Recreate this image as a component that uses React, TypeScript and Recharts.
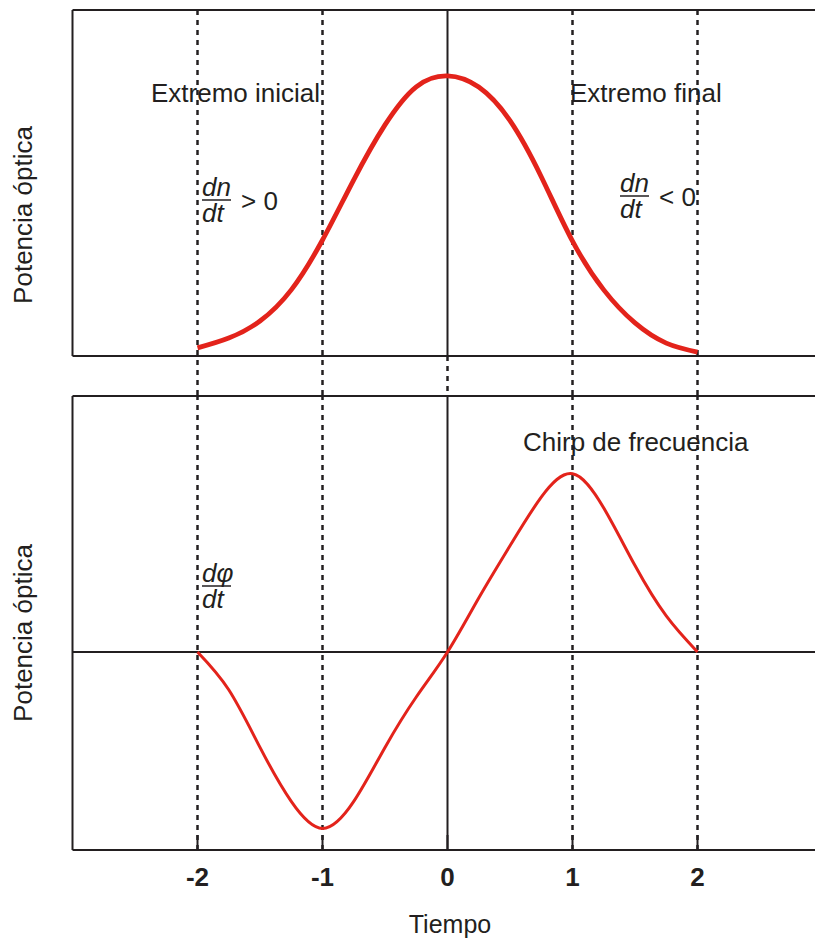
import React from "react";
import { LineChart, Line, XAxis, YAxis, ReferenceLine, Customized } from "recharts";

// time axis (normalised units) and the two traces
const time = [-2, -1.75, -1.5, -1.25, -1, -0.75, -0.5, -0.25, 0, 0.25, 0.5, 0.75, 1, 1.25, 1.5, 1.75, 2];
const pulse = [0.029, 0.064, 0.125, 0.236, 0.414, 0.629, 0.825, 0.961, 1.0, 0.96, 0.84, 0.64, 0.41, 0.236, 0.118, 0.046, 0.014];
const chirp = [0, -0.21, -0.53, -0.83, -0.98, -0.83, -0.53, -0.25, 0, 0.3, 0.59, 0.86, 0.99, 0.8, 0.48, 0.2, 0];
const xTicks = [-2, -1, 0, 1, 2];
const guides = [-2, -1, 1, 2];

const topData = time.map((t, i) => ({ t, p: pulse[i] }));
const botData = time.map((t, i) => ({ t, c: chirp[i] }));

const RED = "#e3231b";
const INK = "#231f20";
const FONT = '"Liberation Sans", Arial, sans-serif';

const X_DOMAIN: [number, number] = [-3, 3];
const TOP_DOMAIN: [number, number] = [0, 1.235];
const BOT_DOMAIN: [number, number] = [-1.1, 1.422];
const GAP_END = -0.15; // how far the dotted guides run below the top panel
const BOT_TOP = 386; // page y of the lower chart

const txt = { fontFamily: FONT, fontSize: 26, fill: INK } as const;

function Frac({ x, y, num, rest }: { x: number; y: number; num: string; rest?: string }) {
  return (
    <g>
      <text x={x} y={y - 4} {...txt} fontStyle="italic">{num}</text>
      <line x1={x} x2={x + 29} y1={y} y2={y} stroke={INK} strokeWidth={1.5} />
      <text x={x} y={y + 22} {...txt} fontStyle="italic">dt</text>
      {rest && <text x={x + 39} y={y + 10} {...txt}>{rest}</text>}
    </g>
  );
}

function YTitle({ cy }: { cy: number }) {
  return (
    <text x={32} y={cy} transform={`rotate(-90 32 ${cy})`} textAnchor="middle" {...txt}>
      Potencia óptica
    </text>
  );
}

const TopNotes = () => (
  <g>
    <YTitle cy={215} />
    <text x={151} y={102} {...txt}>Extremo inicial</text>
    <text x={570} y={102} {...txt}>Extremo final</text>
    <Frac x={202} y={200} num="dn" rest="> 0" />
    <Frac x={620} y={196} num="dn" rest="< 0" />
  </g>
);

const BotNotes = () => (
  <g>
    <YTitle cy={633 - BOT_TOP} />
    <text x={523} y={451 - BOT_TOP} {...txt}>Chirp de frecuencia</text>
    <Frac x={202} y={586 - BOT_TOP} num="dφ" />
    <text x={450} y={933 - BOT_TOP} textAnchor="middle" {...txt} fontSize={25}>Tiempo</text>
  </g>
);

const renderTick = (props: any) => (
  <text x={props.x} y={props.y} textAnchor="middle" {...txt} fontWeight="bold">
    {props.payload.value}
  </text>
);

export default function App() {
  return (
    <div
      style={{
        position: "fixed",
        left: 0,
        top: 0,
        width: 815,
        height: 941,
        overflow: "hidden",
        background: "#fff",
      }}
    >
      <div style={{ position: "absolute", left: 0, top: 0 }}>
        <LineChart width={830} height={396} data={topData} margin={{ top: 10, right: 7.5, bottom: 10, left: 0 }}>
          <XAxis
            dataKey="t"
            type="number"
            domain={X_DOMAIN}
            ticks={xTicks}
            tick={false}
            tickSize={-15}
            height={30}
            axisLine={{ stroke: INK, strokeWidth: 2 }}
            tickLine={{ stroke: INK, strokeWidth: 2 }}
          />
          <YAxis
            type="number"
            domain={TOP_DOMAIN}
            width={72.5}
            tick={false}
            tickLine={false}
            axisLine={{ stroke: INK, strokeWidth: 2 }}
          />
          <ReferenceLine y={TOP_DOMAIN[1]} stroke={INK} strokeWidth={2} />
          {guides.map((g) => (
            <ReferenceLine
              key={g}
              segment={[{ x: g, y: TOP_DOMAIN[1] }, { x: g, y: GAP_END }]}
              ifOverflow="visible"
              stroke={INK}
              strokeWidth={2.5}
              strokeDasharray="5 5"
            />
          ))}
          <ReferenceLine x={0} stroke={INK} strokeWidth={2} />
          <ReferenceLine
            segment={[{ x: 0, y: 0 }, { x: 0, y: GAP_END }]}
            ifOverflow="visible"
            stroke={INK}
            strokeWidth={2.5}
            strokeDasharray="5 5"
          />
          <Line
            dataKey="p"
            type="natural"
            stroke={RED}
            strokeWidth={4.8}
            dot={false}
            activeDot={false}
            isAnimationActive={false}
          />
          <Customized component={TopNotes} />
        </LineChart>
      </div>
      <div style={{ position: "absolute", left: 0, top: BOT_TOP }}>
        <LineChart width={830} height={555} data={botData} margin={{ top: 10, right: 7.5, bottom: 61, left: 0 }}>
          <XAxis
            dataKey="t"
            type="number"
            domain={X_DOMAIN}
            ticks={xTicks}
            tick={renderTick}
            tickSize={-15}
            tickMargin={51}
            height={30}
            axisLine={{ stroke: INK, strokeWidth: 2 }}
            tickLine={{ stroke: INK, strokeWidth: 2 }}
          />
          <YAxis
            type="number"
            domain={BOT_DOMAIN}
            width={72.5}
            tick={false}
            tickLine={false}
            axisLine={{ stroke: INK, strokeWidth: 2 }}
          />
          <ReferenceLine y={BOT_DOMAIN[1]} stroke={INK} strokeWidth={2} />
          <ReferenceLine y={0} stroke={INK} strokeWidth={2} />
          {guides.map((g) => (
            <ReferenceLine key={g} x={g} stroke={INK} strokeWidth={2.5} strokeDasharray="5 5" />
          ))}
          <ReferenceLine x={0} stroke={INK} strokeWidth={2} />
          <Line
            dataKey="c"
            type="natural"
            stroke={RED}
            strokeWidth={3}
            dot={false}
            activeDot={false}
            isAnimationActive={false}
          />
          <Customized component={BotNotes} />
        </LineChart>
      </div>
    </div>
  );
}
